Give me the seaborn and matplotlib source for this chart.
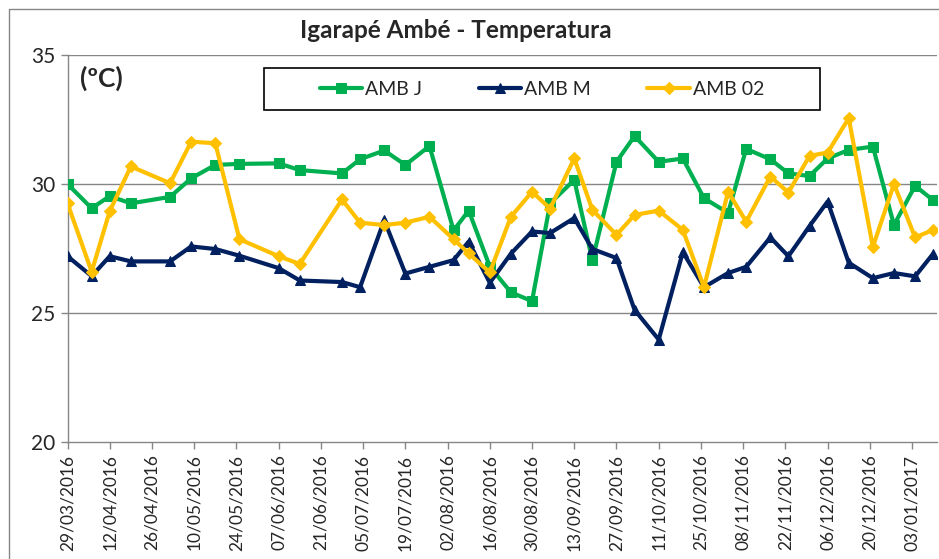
import pandas as pd
import seaborn as sns
import matplotlib.pyplot as plt
import matplotlib.dates as mdates
from matplotlib.lines import Line2D
from matplotlib.patches import Rectangle

datas = ["29/03/2016", "06/04/2016", "12/04/2016", "19/04/2016", "02/05/2016",
         "09/05/2016", "17/05/2016", "25/05/2016", "07/06/2016", "14/06/2016",
         "28/06/2016", "04/07/2016", "12/07/2016", "19/07/2016", "27/07/2016",
         "04/08/2016", "09/08/2016", "16/08/2016", "23/08/2016", "30/08/2016",
         "05/09/2016", "13/09/2016", "19/09/2016", "27/09/2016", "03/10/2016",
         "11/10/2016", "19/10/2016", "26/10/2016", "03/11/2016", "09/11/2016",
         "17/11/2016", "23/11/2016", "30/11/2016", "06/12/2016", "13/12/2016",
         "21/12/2016", "28/12/2016", "04/01/2017", "10/01/2017"]

amb_j = [30.0, 29.06, 29.53, 29.25, 29.5, 30.22, 30.74, 30.78, 30.8, 30.54,
         30.41, 30.96, 31.3, 30.74, 31.47, 28.2, 28.97, 26.8, 25.8, 25.46,
         29.25, 30.16, 27.04, 30.86, 31.86, 30.86, 30.99, 29.45, 28.88, 31.36,
         30.96, 30.41, 30.31, 30.99, 31.32, 31.45, 28.41, 29.93, 29.37]

amb_m = [27.2, 26.43, 27.2, 27.0, 27.0, 27.58, 27.48, 27.22, 26.74, 26.26,
         26.2, 26.0, 28.6, 26.53, 26.79, 27.05, 27.77, 26.17, 27.3, 28.16,
         28.1, 28.68, 27.48, 27.13, 25.12, 23.97, 27.36, 26.0, 26.55, 26.79,
         27.93, 27.2, 28.37, 29.32, 26.95, 26.35, 26.55, 26.42, 27.3]

amb_02 = [29.25, 26.6, 28.95, 30.68, 30.03, 31.64, 31.58, 27.86, 27.2, 26.9,
          29.4, 28.5, 28.41, 28.5, 28.73, 27.86, 27.31, 26.57, 28.73, 29.7,
          29.05, 30.99, 29.0, 28.03, 28.8, 28.97, 28.22, 26.0, 29.7, 28.54,
          30.29, 29.67, 31.09, 31.22, 32.55, 27.56, 30.0, 27.93, 28.22]

series = {"AMB J": amb_j, "AMB M": amb_m, "AMB 02": amb_02}
cores = {"AMB J": "#00B050", "AMB M": "#002060", "AMB 02": "#FFC000"}
marcadores = {"AMB J": "s", "AMB M": "^", "AMB 02": "D"}
tamanhos = {"AMB J": 7, "AMB M": 7.5, "AMB 02": 6}

frames = []
for nome, valores in series.items():
    frames.append(pd.DataFrame({"data": pd.to_datetime(datas, dayfirst=True),
                                "temp": valores, "serie": nome}))
df = pd.concat(frames, ignore_index=True)

sns.set_style("white")
plt.rcParams["font.family"] = ["Lato", "DejaVu Sans"]

fig = plt.figure(figsize=(9.39, 5.59), dpi=100)
ax = fig.add_axes([0.0719, 0.2093, 0.9261, 0.6923])

for nome in series:
    sub = df[df["serie"] == nome]
    sns.lineplot(data=sub, x="data", y="temp", ax=ax, color=cores[nome],
                 marker=marcadores[nome], markersize=tamanhos[nome],
                 markeredgecolor=cores[nome], linewidth=3, label=nome,
                 zorder={"AMB J": 3, "AMB M": 4, "AMB 02": 5}[nome])

inicio = pd.Timestamp("2016-03-29")
ax.set_xlim(inicio, inicio + pd.Timedelta(days=288.3))
ax.set_ylim(20, 35)
ax.set_yticks([20, 25, 30, 35])
ticks = pd.date_range(inicio, periods=21, freq="14D")
ax.set_xticks(ticks)
ax.xaxis.set_major_formatter(mdates.DateFormatter("%d/%m/%Y"))
plt.setp(ax.get_xticklabels(), rotation=90, fontsize=12.5)
plt.setp(ax.get_yticklabels(), fontsize=15)
ax.tick_params(axis="both", direction="out", length=5, width=1, color="#868686",
               bottom=True, left=True, pad=4)
ax.set_xlabel("")
ax.set_ylabel("")

for y in [25, 30, 35]:
    ax.axhline(y, color="#868686", linewidth=1, zorder=1)
for s in ["top", "right"]:
    ax.spines[s].set_visible(False)
for s in ["left", "bottom"]:
    ax.spines[s].set_color("#868686")
    ax.spines[s].set_linewidth(1)

ax.text(0.014, 0.94, "(ºC)", transform=ax.transAxes, fontsize=19,
        fontweight="bold", va="center", ha="left")

fig.text(0.485, 0.946, "Igarapé Ambé - Temperatura", fontsize=17.5,
         fontweight="bold", ha="center", va="center")

leg = ax.legend(loc="center", bbox_to_anchor=(0.5457, 0.912), ncol=3,
                frameon=False, borderaxespad=0, fontsize=14, handlelength=2.2,
                handletextpad=0.15, columnspacing=2.9)
ax.add_patch(Rectangle((0.226, 0.858), 0.639, 0.108, transform=ax.transAxes,
                       fill=False, edgecolor="black", linewidth=1.2,
                       clip_on=False, zorder=6))

# borda externa do grafico
fig.add_artist(Line2D([9 / 939, 9 / 939], [0, 1 - 9 / 559], color="#868686", lw=1))
fig.add_artist(Line2D([9 / 939, 1], [1 - 9 / 559, 1 - 9 / 559], color="#868686", lw=1))

fig.savefig("out.png", dpi=100)
